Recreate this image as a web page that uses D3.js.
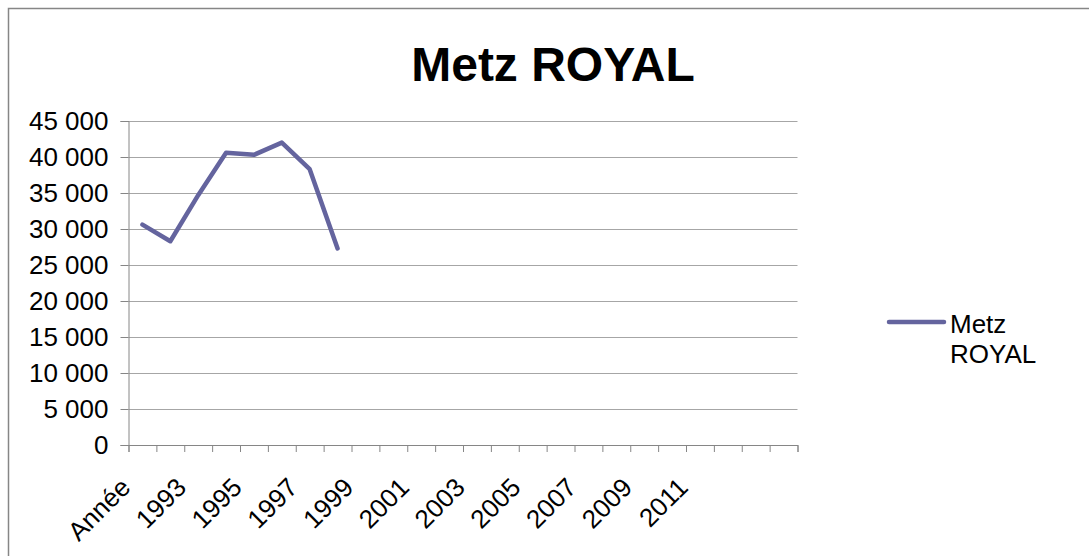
<!DOCTYPE html>
<html>
<head>
<meta charset="utf-8">
<script src="https://cdn.jsdelivr.net/npm/d3@7"></script>
<style>
  html, body { margin: 0; padding: 0; background: #fff; }
  svg { display: block; font-family: "Liberation Sans", Arial, sans-serif; }
</style>
</head>
<body>
<svg id="chart" width="1089" height="556"></svg>
<script>
const title = "Metz ROYAL";
const seriesName = "Metz ROYAL";
const categories = ["Année","1992","1993","1994","1995","1996","1997","1998","1999","2000","2001","2002","2003","2004","2005","2006","2007","2008","2009","2010","2011","2012","",""];
const values = [30600, 28300, 34700, 40600, 40300, 42000, 38300, 27300];
const yTicks = [0, 5000, 10000, 15000, 20000, 25000, 30000, 35000, 40000, 45000];

const svg = d3.select("#chart");
const plot = { left: 128.5, right: 797.5, top: 121, bottom: 445 };
const labelSize = 26;

// outer frame
svg.append("rect").attr("x", 8.5).attr("y", 8.5).attr("width", 1200).attr("height", 700)
  .attr("fill", "#fff").attr("stroke", "#868686").attr("stroke-width", 1.5);

// title
svg.append("text").attr("x", 553).attr("y", 81).attr("text-anchor", "middle")
  .attr("font-size", 48).attr("font-weight", "bold").attr("fill", "#000").text(title);

const y = d3.scaleLinear().domain([0, 45000]).range([plot.bottom, plot.top]);
const xEdge = d3.scaleLinear().domain([0, categories.length]).range([plot.left, plot.right]);
const x = d3.scaleBand().domain(d3.range(categories.length)).range([plot.left, plot.right]).padding(0);

const fmt = v => d3.format(",")(v).replace(/,/g, " ");

// gridlines
svg.append("g").selectAll("line").data(yTicks.filter(v => v > 0)).join("line")
  .attr("x1", plot.left).attr("x2", plot.right)
  .attr("y1", d => Math.round(y(d)) + 0.5).attr("y2", d => Math.round(y(d)) + 0.5)
  .attr("stroke", "#a6a6a6").attr("stroke-width", 1);

// y axis
const yAxis = svg.append("g").attr("transform", `translate(${plot.left},0)`)
  .call(d3.axisLeft(y).tickValues(yTicks).tickSize(8).tickPadding(12).tickFormat(fmt));
yAxis.select(".domain").attr("stroke", "#868686");
yAxis.selectAll(".tick line").attr("stroke", "#868686");
yAxis.selectAll(".tick text").attr("font-size", labelSize).attr("fill", "#000")
  .attr("font-family", "Liberation Sans, Arial, sans-serif");

// x axis (ticks at category boundaries)
const xAxis = svg.append("g").attr("transform", `translate(0,${plot.bottom})`)
  .call(d3.axisBottom(xEdge).tickValues(d3.range(categories.length + 1)).tickSize(7).tickFormat(""));
xAxis.select(".domain").attr("stroke", "#868686");
xAxis.selectAll(".tick line").attr("stroke", "#868686");

// x labels (every other category)
svg.append("g").selectAll("text")
  .data(categories.map((c, i) => ({ c, i })).filter(d => d.i % 2 === 0 && d.c !== ""))
  .join("text")
  .attr("transform", d => `translate(${x(d.i) + x.bandwidth() / 2 - 10.5},${plot.bottom + 44}) rotate(-45)`)
  .attr("text-anchor", "end").attr("font-size", labelSize).attr("fill", "#000")
  .attr("font-family", "Liberation Sans, Arial, sans-serif")
  .text(d => d.c);

// line
const line = d3.line().x((d, i) => x(i) + x.bandwidth() / 2).y(d => y(d));
svg.append("path").datum(values).attr("d", line)
  .attr("fill", "none").attr("stroke", "#64649e").attr("stroke-width", 4.5)
  .attr("stroke-linejoin", "round").attr("stroke-linecap", "round");

// legend
svg.append("line").attr("x1", 889).attr("x2", 944).attr("y1", 322).attr("y2", 322)
  .attr("stroke", "#64649e").attr("stroke-width", 4.5).attr("stroke-linecap", "round");
const lt = svg.append("text").attr("font-size", labelSize).attr("fill", "#000");
lt.append("tspan").attr("x", 950).attr("y", 333).text("Metz");
lt.append("tspan").attr("x", 950).attr("y", 363).text(seriesName.split(" ")[1]);
</script>
</body>
</html>
